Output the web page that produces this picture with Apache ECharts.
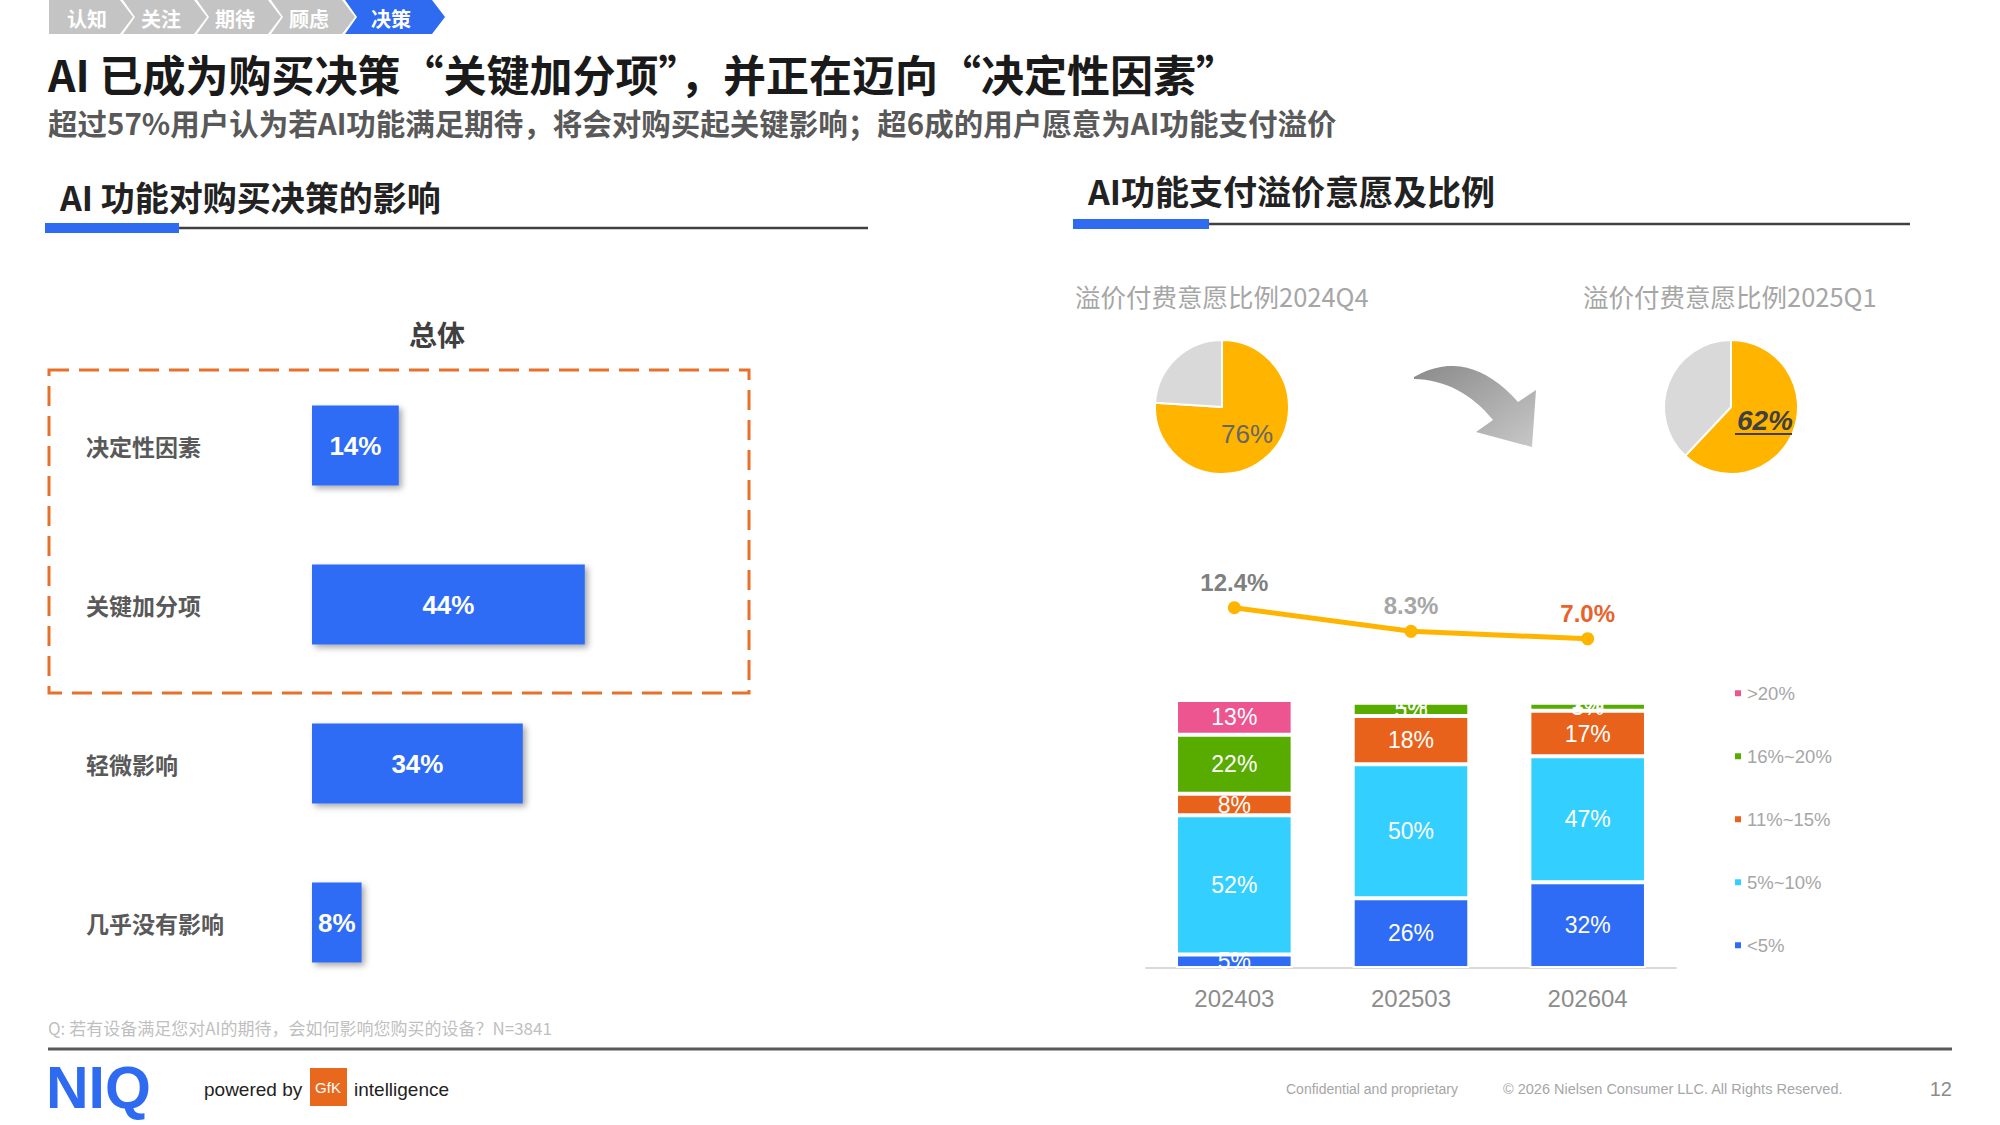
<!DOCTYPE html>
<html><head><meta charset="utf-8">
<script src="https://cdn.jsdelivr.net/npm/echarts@6/dist/echarts.min.js"></script>
<style>html,body{margin:0;padding:0;background:#fff}#c{width:2000px;height:1125px}</style>
</head><body><div id="c"></div>
<script>
// ---------- data ----------
const impactCategories = ['决定性因素', '关键加分项', '轻微影响', '几乎没有影响'];
const impactValues = [14, 44, 34, 8];

const periods = ['202403', '202503', '202604'];
const bandNames = ['<5%', '5%~10%', '11%~15%', '16%~20%', '>20%'];
const bandLt5 = [5, 26, 32];
const band5to10 = [52, 50, 47];
const band11to15 = [8, 18, 17];
const band16to20 = [22, 5, 3];
const bandGt20 = [13, 1, 1];
const avgPremium = [12.4, 8.3, 7.0];

const pieTitles = ['溢价付费意愿比例2024Q4', '溢价付费意愿比例2025Q1'];
const pieNames = ['愿意', '不愿意'];
const willing2024Q4 = [76, 24];
const willing2025Q1 = [62, 38];

const crumbs = ['认知', '关注', '期待', '顾虑', '决策'];

// ---------- styles ----------
const CJK = "'Noto Sans CJK SC', 'Liberation Sans', sans-serif";
const LAT = "'Liberation Sans', Arial, 'Noto Sans CJK SC', sans-serif";
const NARROW = "'Liberation Sans Narrow', 'Liberation Sans', Arial, sans-serif";
const BLUE = '#2E6CF5';
const bandColors = ['#2E6CF5', '#33D0FF', '#E8621C', '#58AC00', '#EC5590'];
const bandData = [bandLt5, band5to10, band11to15, band16to20, bandGt20];

// quadratic bezier helper for decorative arrow outline
function qcurve(p0, c, p1, n) {
  const pts = [];
  for (let k = 0; k <= n; k++) {
    const t = k / n, a = (1 - t) * (1 - t), b = 2 * (1 - t) * t, d = t * t;
    pts.push([a * p0[0] + b * c[0] + d * p1[0], a * p0[1] + b * c[1] + d * p1[1]]);
  }
  return pts;
}

// ---------- decorative graphics ----------
const g = [];
crumbs.forEach((t, i) => {
  const x0 = 49 + 74 * i, w = i === 4 ? 100 : 84, notch = i === 0 ? 0 : 12;
  g.push({type: 'polygon', shape: {points: [[x0, 0], [x0 + w - 13, 0], [x0 + w, 17], [x0 + w - 13, 34], [x0, 34], [x0 + notch, 17]]},
    style: {fill: i === 4 ? '#2F6BF0' : '#C4C4C4'}});
  g.push({type: 'text', x: x0 + w / 2 - 4, y: 18, style: {text: t, fill: '#fff', font: "bold 20px " + CJK, textAlign: 'center', textVerticalAlign: 'middle'}});
});
g.push({type: 'text', x: 48, y: 73, style: {text: 'AI 已成为购买决策“关键加分项”，并正在迈向“决定性因素”', fill: '#1A1A1A', font: "bold 43px " + CJK, textVerticalAlign: 'middle'}});
g.push({type: 'text', x: 48, y: 122, style: {text: '超过57%用户认为若AI功能满足期待，将会对购买起关键影响；超6成的用户愿意为AI功能支付溢价', fill: '#595959', font: "bold 29.5px " + CJK, textVerticalAlign: 'middle'}});

// section headers
g.push({type: 'text', x: 60, y: 196, style: {text: 'AI 功能对购买决策的影响', fill: '#222', font: "bold 34px " + CJK, textVerticalAlign: 'middle'}});
g.push({type: 'line', shape: {x1: 179, y1: 228, x2: 868, y2: 228}, style: {stroke: '#404040', lineWidth: 2.5}});
g.push({type: 'rect', shape: {x: 45, y: 223, width: 134, height: 10}, style: {fill: '#2F6BF0'}});
g.push({type: 'text', x: 1088, y: 190, style: {text: 'AI功能支付溢价意愿及比例', fill: '#222', font: "bold 34px " + CJK, textVerticalAlign: 'middle'}});
g.push({type: 'line', shape: {x1: 1209, y1: 224, x2: 1910, y2: 224}, style: {stroke: '#404040', lineWidth: 2.5}});
g.push({type: 'rect', shape: {x: 1073, y: 219, width: 136, height: 10}, style: {fill: '#2F6BF0'}});

// left chart decorations
g.push({type: 'text', x: 437, y: 334, style: {text: '总体', fill: '#404040', font: "bold 28px " + CJK, textAlign: 'center', textVerticalAlign: 'middle'}});
g.push({type: 'rect', shape: {x: 49, y: 370, width: 700, height: 323}, style: {fill: 'none', stroke: '#E8702A', lineWidth: 3, lineDash: [20, 10]}});

// pie titles and arrow
g.push({type: 'text', x: 1075, y: 295, style: {text: pieTitles[0], fill: '#A6A6A6', font: "25.5px " + CJK, textVerticalAlign: 'middle'}});
g.push({type: 'text', x: 1583, y: 295, style: {text: pieTitles[1], fill: '#A6A6A6', font: "25.5px " + CJK, textVerticalAlign: 'middle'}});
const arrowPts = [].concat(
  qcurve([1414, 377], [1468, 346], [1518, 402], 16),
  [[1536, 390], [1532, 447], [1476, 432]],
  qcurve([1493, 420], [1460, 380], [1414, 379], 16)
);
g.push({type: 'polygon', shape: {points: arrowPts},
  style: {fill: {type: 'linear', x: 0, y: 0, x2: 1, y2: 1, colorStops: [{offset: 0, color: '#8A8A8A'}, {offset: 1, color: '#C8C8C8'}]}}});
g.push({type: 'line', shape: {x1: 1735, y1: 434, x2: 1792, y2: 434}, style: {stroke: '#404040', lineWidth: 2}, z: 10});

// footer
g.push({type: 'text', x: 48, y: 1027, style: {text: 'Q: 若有设备满足您对AI的期待，会如何影响您购买的设备？N=3841', fill: '#BFBFBF', font: "17px " + CJK, textVerticalAlign: 'middle'}});
g.push({type: 'line', shape: {x1: 48, y1: 1049, x2: 1952, y2: 1049}, style: {stroke: '#595959', lineWidth: 3}});
g.push({type: 'text', x: 46, y: 1088, style: {text: 'NIQ', fill: '#2F6BF0', font: "bold 59px " + LAT, textVerticalAlign: 'middle'}});
g.push({type: 'text', x: 204, y: 1089, style: {text: 'powered by', fill: '#222', font: "19px " + LAT, textVerticalAlign: 'middle'}});
g.push({type: 'rect', shape: {x: 310, y: 1068, width: 37, height: 38}, style: {fill: '#E8681E'}});
g.push({type: 'text', x: 328, y: 1087, style: {text: 'GfK', fill: '#fff', font: "15px " + LAT, textAlign: 'center', textVerticalAlign: 'middle'}});
g.push({type: 'text', x: 354, y: 1089, style: {text: 'intelligence', fill: '#222', font: "19px " + LAT, textVerticalAlign: 'middle'}});
g.push({type: 'text', x: 1286, y: 1089, style: {text: 'Confidential and proprietary', fill: '#A6A6A6', font: "14px " + LAT, textVerticalAlign: 'middle'}});
g.push({type: 'text', x: 1503, y: 1089, style: {text: '© 2026 Nielsen Consumer LLC. All Rights Reserved.', fill: '#A6A6A6', font: "14.5px " + LAT, textVerticalAlign: 'middle'}});
g.push({type: 'text', x: 1952, y: 1089, style: {text: '12', fill: '#8C8C8C', font: "20px " + LAT, textAlign: 'right', textVerticalAlign: 'middle'}});

// ---------- chart ----------
const chart = echarts.init(document.getElementById('c'), null, {renderer: 'svg', width: 2000, height: 1125});

const stackSeries = bandNames.map((name, i) => ({
  name, type: 'bar', stack: 'premium', xAxisIndex: 1, yAxisIndex: 1,
  data: bandData[i], barWidth: '66%',
  itemStyle: {color: bandColors[i], borderColor: '#fff', borderWidth: 2},
  label: {show: true, position: 'inside', formatter: '{c}%', color: '#fff', fontSize: 23, fontFamily: LAT}
}));

const option = {
  backgroundColor: '#fff',
  animation: false,
  textStyle: {fontFamily: LAT},
  graphic: g,
  grid: [
    {left: 312, top: 366, width: 620, height: 636},
    {left: 1146, top: 700, width: 530, height: 268},
    {left: 1146, top: 564, width: 530, height: 115}
  ],
  xAxis: [
    {gridIndex: 0, type: 'value', min: 0, max: 100, show: false},
    {gridIndex: 1, type: 'category', data: periods,
      axisLine: {lineStyle: {color: '#D9D9D9', width: 2}}, axisTick: {show: false},
      axisLabel: {color: '#8C8C8C', fontSize: 24, margin: 18, fontFamily: LAT}},
    {gridIndex: 2, type: 'category', data: periods, show: false}
  ],
  yAxis: [
    {gridIndex: 0, type: 'category', data: impactCategories, inverse: true,
      axisLine: {show: false}, axisTick: {show: false},
      axisLabel: {align: 'left', margin: 226, color: '#595959', fontSize: 23, fontWeight: 'bold', fontFamily: CJK}},
    {gridIndex: 1, type: 'value', min: 0, max: 100, show: false},
    {gridIndex: 2, type: 'value', min: 0, max: 20, show: false}
  ],
  legend: {
    orient: 'vertical', left: 1733, top: 684, padding: 0, itemWidth: 8, itemHeight: 8, itemGap: 44.5,
    icon: 'rect', data: bandNames.slice().reverse(),
    textStyle: {color: '#A6A6A6', fontSize: 18.5, fontFamily: LAT}
  },
  series: [
    {type: 'bar', xAxisIndex: 0, yAxisIndex: 0, data: impactValues, barWidth: 80,
      itemStyle: {color: BLUE, shadowColor: 'rgba(0,0,0,0.35)', shadowBlur: 6, shadowOffsetX: 3, shadowOffsetY: 3},
      label: {show: true, position: 'inside', formatter: '{c}%', color: '#fff', fontSize: 26, fontWeight: 'bold', fontFamily: NARROW}},
    ...stackSeries,
    {type: 'line', xAxisIndex: 2, yAxisIndex: 2, data: avgPremium.map((v, i) => ({
        value: v, label: {color: ['#7F7F7F', '#A6A6A6', '#E8622A'][i]}})),
      symbol: 'circle', symbolSize: 13,
      lineStyle: {color: '#FFB400', width: 5}, itemStyle: {color: '#FFB400'},
      label: {show: true, position: 'top', distance: 7, fontSize: 24, fontWeight: 'bold', fontFamily: LAT,
        formatter: p => p.value.toFixed(1) + '%'}},
    {type: 'pie', center: [1222, 407], radius: 67, startAngle: 90, clockwise: true,
      itemStyle: {borderColor: '#fff', borderWidth: 2},
      labelLine: {show: false},
      data: [
        {name: pieNames[0], value: willing2024Q4[0], itemStyle: {color: '#FFB400'},
          label: {show: true, position: 'inside', formatter: '{c}%', color: '#666', fontSize: 26, fontFamily: LAT}},
        {name: pieNames[1], value: willing2024Q4[1], itemStyle: {color: '#D9D9D9'}, label: {show: false}}
      ]},
    {type: 'pie', center: [1731, 407], radius: 67, startAngle: 90, clockwise: true,
      itemStyle: {borderColor: '#fff', borderWidth: 2},
      labelLine: {show: false},
      data: [
        {name: pieNames[0], value: willing2025Q1[0], itemStyle: {color: '#FFB400'},
          label: {show: true, position: 'inside', formatter: '{c}%', color: '#404040', fontSize: 28, fontWeight: 'bold', fontStyle: 'italic', fontFamily: LAT}},
        {name: pieNames[1], value: willing2025Q1[1], itemStyle: {color: '#D9D9D9'}, label: {show: false}}
      ]}
  ]
};
chart.setOption(option);
</script>
</body></html>
